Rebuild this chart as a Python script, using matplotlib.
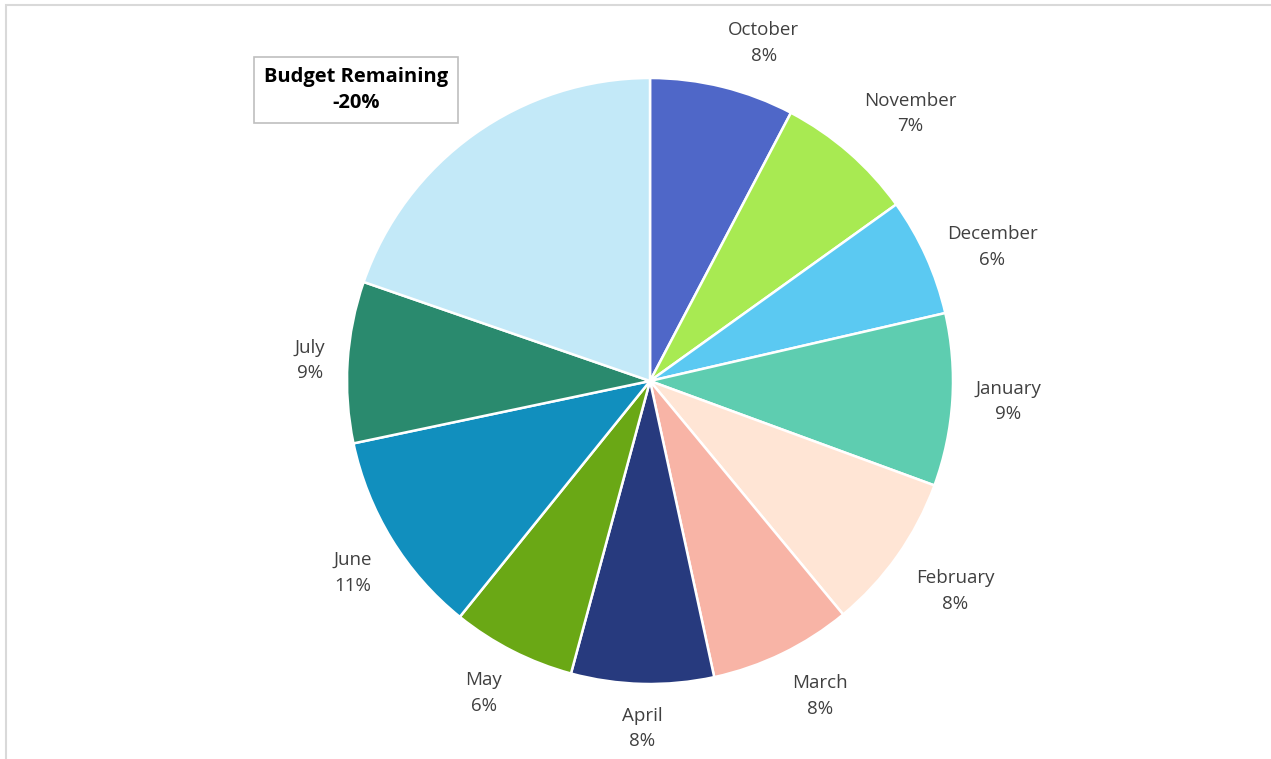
import numpy as np
import matplotlib.pyplot as plt
from matplotlib.patches import Rectangle

# Datos del grafico
months = ["October", "November", "December", "January", "February", "March",
          "April", "May", "June", "July", "Remaining"]
shares = [7.7, 7.4, 6.3, 9.2, 8.4, 7.6, 7.6, 6.6, 10.9, 8.6, 19.7]
pct_labels = ["8%", "7%", "6%", "9%", "8%", "8%", "8%", "6%", "11%", "9%", ""]
colors = ["#4F67C8", "#A8EA52", "#5BC9F2", "#5ECDB0", "#FFE5D5", "#F8B4A6",
          "#273A7E", "#6AA815", "#118FBE", "#2A8A6E", "#C3E9F8"]
remaining_text = "Budget Remaining\n-20%"

W, H = 1271, 759
fig = plt.figure(figsize=(W / 100, H / 100), dpi=100)

# Marco gris claro del area del grafico
fig.patches.append(Rectangle((6 / W, -0.05), 1.2, 1 - 5 / H + 0.05, transform=fig.transFigure,
                             fill=False, edgecolor="#D9D9D9", linewidth=1.5))

# Eje con el pie centrado en (650, 381) px y radio 303 px
cx, cy, r, k = 650, 381, 303, 1.25
half = r * k
ax = fig.add_axes([(cx - half) / W, (H - cy - half) / H, 2 * half / W, 2 * half / H])
ax.set_xlim(-k, k)
ax.set_ylim(-k, k)
ax.set_aspect("equal")
ax.axis("off")

wedges, _ = ax.pie(shares, colors=colors, startangle=90, counterclock=False, radius=1,
                   wedgeprops=dict(edgecolor="white", linewidth=1.8))

# Etiquetas fuera de cada porcion
for w, name, pct in zip(wedges, months, pct_labels):
    if not pct:
        continue
    ang = np.deg2rad((w.theta1 + w.theta2) / 2)
    x, y = np.cos(ang), np.sin(ang)
    ha = "left" if x > 0.15 else ("right" if x < -0.15 else "center")
    va = "bottom" if y > 0.5 else ("top" if y < -0.5 else "center")
    ax.text(1.075 * x, 1.075 * y, f"{name}\n{pct}", ha=ha, va=va, multialignment="center",
            fontsize=13.5, color="#404040", family="Open Sans", linespacing=1.55)

# Caja con el presupuesto restante
fig.text(356 / W, 1 - 90 / H, remaining_text, ha="center", va="center", fontsize=14.5,
         fontweight="bold", color="black", family="Open Sans", linespacing=1.45,
         bbox=dict(boxstyle="square,pad=0.5", facecolor="white", edgecolor="#BFBFBF", linewidth=1.2))

fig.savefig("out.png", dpi=100)
